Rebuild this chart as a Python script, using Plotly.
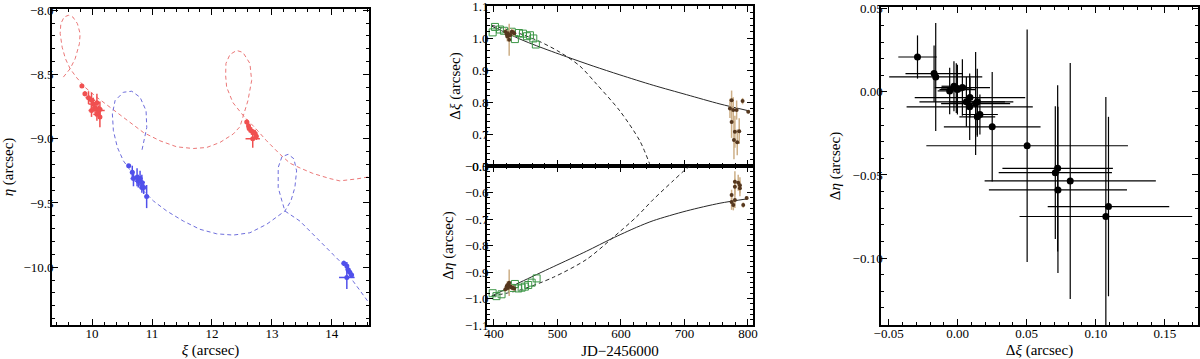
import plotly.graph_objs as go

# ---- left panel: sky positions (arcsec) ----
red_path_xi = [9.52, 9.633, 9.717, 9.788, 9.80, 9.755, 9.678, 9.605, 9.533, 9.478, 9.467, 9.50, 9.555,
               9.633, 9.745, 9.883, 10.078, 10.30, 10.578, 10.855, 11.133, 11.412, 11.688, 11.912,
               12.133, 12.355, 12.467, 12.522, 12.60, 12.662, 12.633, 12.517, 12.412, 12.30, 12.233,
               12.228, 12.245, 12.35, 12.522, 12.717, 12.912, 13.133, 13.30, 13.467, 13.683, 13.967,
               14.133, 14.417, 14.617]
red_path_eta = [-8.52, -8.455, -8.377, -8.26, -8.182, -8.104, -8.052, -8.039, -8.052, -8.104, -8.182,
                -8.287, -8.377, -8.455, -8.526, -8.60, -8.677, -8.755, -8.859, -8.951, -9.016, -9.063,
                -9.076, -9.068, -9.029, -8.963, -8.906, -8.82, -8.703, -8.547, -8.414, -8.328, -8.3125,
                -8.344, -8.414, -8.508, -8.599, -8.719, -8.82, -8.914, -9.016, -9.12, -9.19, -9.227,
                -9.27, -9.31, -9.328, -9.3125, -9.297]

blue_path_xi = [10.833, 10.912, 10.90, 10.80, 10.662, 10.522, 10.383, 10.338, 10.355, 10.422, 10.522,
                10.605, 10.717, 10.855, 11.022, 11.245, 11.522, 11.80, 12.078, 12.355, 12.633, 12.912,
                13.10, 13.217, 13.317, 13.383, 13.412, 13.367, 13.272, 13.167, 13.105, 13.105, 13.167,
                13.217, 13.467, 13.688, 14.022, 14.188, 14.355, 14.622]
blue_path_eta = [-9.086, -8.912, -8.781, -8.677, -8.63, -8.638, -8.703, -8.807, -8.9375, -9.068, -9.172,
                 -9.224, -9.297, -9.406, -9.484, -9.5625, -9.641, -9.705, -9.74, -9.75, -9.732, -9.666,
                 -9.602, -9.5625, -9.484, -9.38, -9.25, -9.156, -9.121, -9.14, -9.224, -9.38, -9.484,
                 -9.5625, -9.641, -9.745, -9.901, -9.979, -10.109, -10.279]

red_obs_xi = [9.83, 9.88, 9.94, 9.99, 10.02, 10.08, 10.05, 10.11, 10.13, 9.99, 10.08, 10.13,
              12.58, 12.61, 12.62, 12.66, 12.69, 12.72, 12.74, 12.68]
red_obs_eta = [-8.59, -8.65, -8.68, -8.70, -8.73, -8.72, -8.76, -8.78, -8.77, -8.78, -8.81, -8.83,
               -8.87, -8.90, -8.92, -8.94, -8.95, -8.96, -8.98, -9.00]
red_obs_xerr = [0.01, 0.02, 0.05, 0.06, 0.08, 0.05, 0.07, 0.10, 0.04, 0.05, 0.06, 0.03,
                0.02, 0.03, 0.02, 0.03, 0.03, 0.03, 0.02, 0.12]
red_obs_yerr = [0.01, 0.02, 0.05, 0.06, 0.05, 0.07, 0.04, 0.04, 0.06, 0.05, 0.05, 0.08,
                0.02, 0.03, 0.03, 0.03, 0.02, 0.03, 0.03, 0.07]

blue_obs_xi = [10.61, 10.67, 10.69, 10.75, 10.77, 10.80, 10.83, 10.83, 10.86, 10.91,
               14.20, 14.25, 14.27, 14.30, 14.33, 14.25]
blue_obs_eta = [-9.21, -9.26, -9.31, -9.30, -9.33, -9.31, -9.34, -9.38, -9.38, -9.45,
                -9.97, -9.99, -10.02, -10.04, -10.06, -10.08]
blue_obs_xerr = [0.01, 0.03, 0.05, 0.05, 0.06, 0.04, 0.05, 0.04, 0.04, 0.03,
                 0.02, 0.02, 0.03, 0.02, 0.03, 0.13]
blue_obs_yerr = [0.01, 0.05, 0.06, 0.07, 0.05, 0.06, 0.06, 0.04, 0.05, 0.09,
                 0.02, 0.03, 0.03, 0.03, 0.02, 0.09]

# ---- middle panel: separation vs time ----
fit_jd = [396.4, 441, 467.2, 514.5, 556.4, 598.4, 650.9, 703.5, 756, 800.5]
fit_dxi = [1.0375, 0.997, 0.976, 0.9416, 0.9125, 0.885, 0.8525, 0.823, 0.794, 0.773]
lin_jd_xi = [396.4, 441, 472.4, 503.9, 535.4, 561.7, 598.4, 629.9, 646.5]
lin_dxi = [1.0406, 1.014, 0.989, 0.956, 0.9125, 0.856, 0.772, 0.678, 0.60]

fit_jd_eta = [396.4, 441, 493.4, 546, 585.4, 624.7, 650.9, 703.5, 756, 800.5]
fit_deta = [-0.9906, -0.939, -0.880, -0.821, -0.774, -0.731, -0.706, -0.669, -0.640, -0.623]
lin_jd_eta = [396.4, 441, 493.4, 546, 585.4, 624.7, 650.9, 682.4, 703.5, 709.7]
lin_deta = [-0.9906, -0.968, -0.920, -0.852, -0.774, -0.691, -0.626, -0.555, -0.509, -0.50]

hst_jd = [398, 401.6, 409.4, 415.7, 428, 433, 439.4, 445.7, 452, 456.7, 462, 466]
hst_dxi = [1.018, 1.035, 1.027, 1.023, 1.020, 0.997, 1.016, 1.014, 1.006, 1.009, 0.999, 0.98]
hst_jd_eta = [398, 404, 412, 428, 433, 438.3, 443.6, 448.8, 454, 459.4, 467.2]
hst_deta = [-0.980, -0.991, -0.984, -0.960, -0.945, -0.962, -0.959, -0.955, -0.949, -0.940, -0.924]

ao_jd = [418, 420, 421, 422, 423, 424, 426, 428, 430, 432,
         774.3, 791.6, 771.7, 776.9, 782.2, 800.5, 774.3, 779.5, 786.3, 778, 783.2]
ao_dxi = [1.02, 1.012, 1.005, 1.015, 1.008, 0.995, 1.01, 1.02, 1.018, 1.015,
          0.806, 0.803, 0.780, 0.775, 0.775, 0.770, 0.738, 0.707, 0.709, 0.681, 0.674]
ao_dxi_err = [0.01, 0.01, 0.015, 0.01, 0.01, 0.05, 0.01, 0.01, 0.01, 0.01,
              0.03, 0.01, 0.03, 0.04, 0.03, 0.005, 0.05, 0.05, 0.04, 0.06, 0.04]
ao_jd_eta = [418, 420, 421, 422, 423, 424, 426, 428, 430, 432,
             779.5, 784.7, 779.5, 787.4, 774.3, 798, 774.3, 777, 792.6, 779.5, 787.4]
ao_deta = [-0.965, -0.955, -0.95, -0.96, -0.945, -0.94, -0.955, -0.958, -0.96, -0.962,
           -0.559, -0.563, -0.578, -0.584, -0.609, -0.620, -0.635, -0.647, -0.647, -0.628, -0.572]
ao_deta_err = [0.01, 0.01, 0.015, 0.01, 0.01, 0.05, 0.01, 0.01, 0.01, 0.01,
               0.04, 0.03, 0.03, 0.03, 0.02, 0.005, 0.03, 0.02, 0.01, 0.03, 0.03]

# ---- right panel: residual offsets ----
res_dxi = [-0.0291, -0.0171, -0.0159, -0.0058, -0.0027, -0.001, -0.0002, 0.0034, 0.0063, 0.0089,
           0.0087, 0.013, 0.0142, 0.0142, 0.0161, 0.025, 0.0503, 0.0707, 0.0724, 0.0726, 0.0815,
           0.1073, 0.1092]
res_deta = [0.021, 0.011, 0.009, 0.0006, 0.0034, 0.0023, 0.0014, 0.0026, -0.006, -0.0034,
            -0.009, -0.007, -0.006, -0.015, -0.0136, -0.021, -0.0324, -0.0486, -0.046, -0.059,
            -0.0536, -0.075, -0.069]
res_dxi_err = [0.0139, 0.0207, 0.0337, 0.0087, 0.009, 0.011, 0.013, 0.02, 0.034, 0.04,
               0.0457, 0.025, 0.02, 0.013, 0.013, 0.035, 0.073, 0.041, 0.04, 0.05, 0.062,
               0.0625, 0.044]
res_deta_err = [0.013, 0.017, 0.0325, 0.014, 0.015, 0.015, 0.015, 0.017, 0.015, 0.012,
                0.02, 0.031, 0.02, 0.012, 0.012, 0.033, 0.07, 0.04, 0.05, 0.05, 0.071,
                0.072, 0.054]

serif = 'Liberation Serif'
red = 'rgb(240,80,80)'
blue = 'rgb(80,80,235)'
tan = 'rgb(205,175,135)'
brown = 'rgb(85,55,30)'
green = 'rgb(60,150,70)'

data = [
    go.Scatter(x=red_path_xi, y=red_path_eta, mode='lines', xaxis='x', yaxis='y',
               line=dict(color='rgb(235,120,120)', width=1, dash='4px,3px')),
    go.Scatter(x=blue_path_xi, y=blue_path_eta, mode='lines', xaxis='x', yaxis='y',
               line=dict(color='rgb(110,110,220)', width=1, dash='4px,3px')),
    go.Scatter(x=red_obs_xi, y=red_obs_eta, mode='markers', xaxis='x', yaxis='y',
               marker=dict(color=red, size=5),
               error_x=dict(array=red_obs_xerr, color=red, thickness=1.5, width=0),
               error_y=dict(array=red_obs_yerr, color=red, thickness=1.5, width=0)),
    go.Scatter(x=blue_obs_xi, y=blue_obs_eta, mode='markers', xaxis='x', yaxis='y',
               marker=dict(color=blue, size=5),
               error_x=dict(array=blue_obs_xerr, color=blue, thickness=1.5, width=0),
               error_y=dict(array=blue_obs_yerr, color=blue, thickness=1.5, width=0)),
    # middle top
    go.Scatter(x=fit_jd, y=fit_dxi, mode='lines', xaxis='x2', yaxis='y2',
               line=dict(color='rgb(40,40,40)', width=1, shape='spline', smoothing=0.8)),
    go.Scatter(x=lin_jd_xi, y=lin_dxi, mode='lines', xaxis='x2', yaxis='y2',
               line=dict(color='rgb(40,40,40)', width=1, dash='4px,3px', shape='spline', smoothing=0.8)),
    go.Scatter(x=hst_jd, y=hst_dxi, mode='markers', xaxis='x2', yaxis='y2',
               marker=dict(symbol='square-open', color=green, size=7, line=dict(width=1))),
    go.Scatter(x=ao_jd, y=ao_dxi, mode='markers', xaxis='x2', yaxis='y2',
               marker=dict(color=brown, size=4),
               error_y=dict(array=ao_dxi_err, color=tan, thickness=1.5, width=0)),
    # middle bottom
    go.Scatter(x=fit_jd_eta, y=fit_deta, mode='lines', xaxis='x3', yaxis='y3',
               line=dict(color='rgb(40,40,40)', width=1, shape='spline', smoothing=0.8)),
    go.Scatter(x=lin_jd_eta, y=lin_deta, mode='lines', xaxis='x3', yaxis='y3',
               line=dict(color='rgb(40,40,40)', width=1, dash='4px,3px', shape='spline', smoothing=0.8)),
    go.Scatter(x=hst_jd_eta, y=hst_deta, mode='markers', xaxis='x3', yaxis='y3',
               marker=dict(symbol='square-open', color=green, size=7, line=dict(width=1))),
    go.Scatter(x=ao_jd_eta, y=ao_deta, mode='markers', xaxis='x3', yaxis='y3',
               marker=dict(color=brown, size=4),
               error_y=dict(array=ao_deta_err, color=tan, thickness=1.5, width=0)),
    # right
    go.Scatter(x=res_dxi, y=res_deta, mode='markers', xaxis='x4', yaxis='y4',
               marker=dict(color='black', size=7),
               error_x=dict(array=res_dxi_err, color='black', thickness=1.2, width=0),
               error_y=dict(array=res_deta_err, color='black', thickness=1.2, width=0)),
]


def frame(**kw):
    ax = dict(showline=True, linecolor='black', linewidth=1.5, mirror='allticks',
              ticks='inside', ticklen=6, tickcolor='black', tickwidth=1,
              showgrid=False, zeroline=False, automargin=False, ticklabeloverflow='allow',
              tickfont=dict(family=serif, size=13, color='black'))
    ax.update(kw)
    return ax


ttl = dict(family=serif, size=15, color='black')
mnr = dict(ticks='inside', ticklen=3, tickcolor='black')

layout = go.Layout(
    width=1200, height=359, showlegend=False, template='none',
    paper_bgcolor='white', plot_bgcolor='white',
    margin=dict(l=0, r=0, t=0, b=0),
    xaxis=frame(domain=[0.0433, 0.3075], range=[9.33, 14.62], dtick=1, tick0=10,
                ticklabelstandoff=-4, minor=dict(dtick=0.2, **mnr),
                title=dict(text='<i>ξ</i> (arcsec)', font=ttl, standoff=10)),
    yaxis=frame(domain=[0.0947, 0.9749], range=[-10.45, -7.99], dtick=0.5, tick0=-8,
                tickformat='.1f', ticklabelstandoff=-6, minor=dict(dtick=0.1, **mnr),
                title=dict(text='<i>η</i> (arcsec)', font=ttl, standoff=8)),
    xaxis2=frame(domain=[0.4058, 0.6275], range=[389, 808], dtick=100, anchor='y2',
                 matches='x3', showticklabels=False, minor=dict(dtick=20, **mnr)),
    yaxis2=frame(domain=[0.5376, 0.9833], range=[0.6, 1.1005], dtick=0.1, tick0=0.6,
                 tickformat='.1f', anchor='x2', ticklabelstandoff=-6,
                 minor=dict(dtick=0.02, **mnr),
                 title=dict(text='Δ<i>ξ</i> (arcsec)', font=ttl, standoff=8)),
    xaxis3=frame(domain=[0.4058, 0.6275], range=[389, 808], dtick=100, anchor='y3',
                 ticklabelstandoff=-4, minor=dict(dtick=20, **mnr),
                 title=dict(text='JD−2456000', font=ttl, standoff=10)),
    yaxis3=frame(domain=[0.0947, 0.5376], range=[-1.1, -0.4995], dtick=0.1, tick0=-1.1,
                 tickformat='.1f', anchor='x3', ticklabelstandoff=-6,
                 minor=dict(dtick=0.02, **mnr),
                 title=dict(text='Δ<i>η</i> (arcsec)', font=ttl, standoff=8)),
    xaxis4=frame(domain=[0.7342, 0.9983], range=[-0.0555, 0.174], dtick=0.05, tick0=0,
                 tickformat='.2f', anchor='y4', ticklabelstandoff=-4,
                 minor=dict(dtick=0.01, **mnr),
                 title=dict(text='Δ<i>ξ</i> (arcsec)', font=ttl, standoff=10)),
    yaxis4=frame(domain=[0.0947, 0.9805], range=[-0.1403, 0.0511], dtick=0.05, tick0=0,
                 tickformat='.2f', anchor='x4', ticklabelstandoff=-6,
                 minor=dict(dtick=0.01, **mnr),
                 title=dict(text='Δ<i>η</i> (arcsec)', font=ttl, standoff=8)),
)

fig = go.Figure(data=data, layout=layout)
# the page body has a default 8px margin; drop it so the figure sits at the window origin
fig.write_html('out.html', config={'displayModeBar': False},
               post_script="document.body.style.margin='0';")
